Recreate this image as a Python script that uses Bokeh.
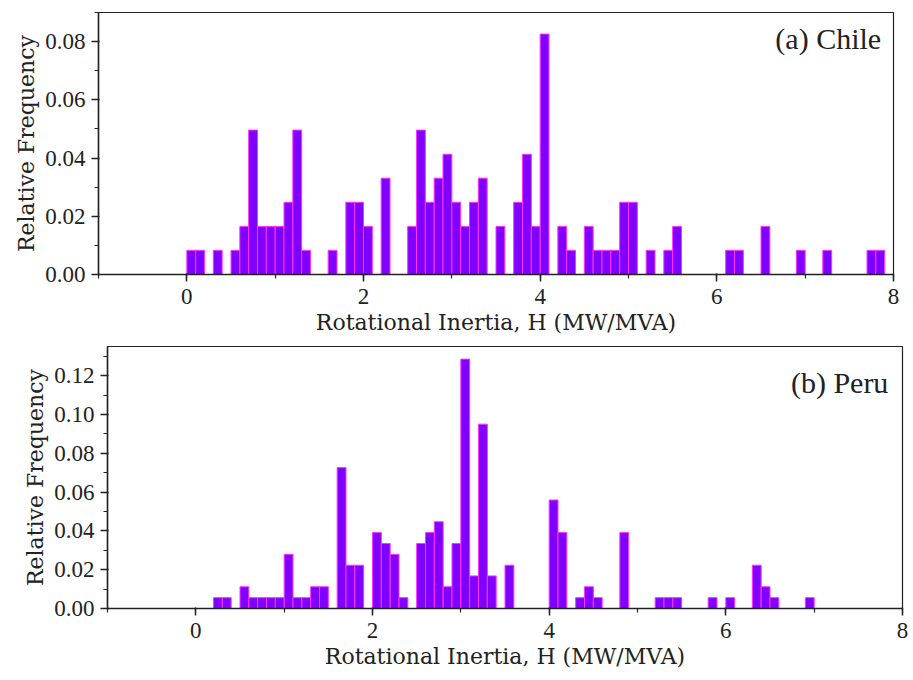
from bokeh.plotting import figure
from bokeh.models import SingleIntervalTicker, NumeralTickFormatter, Label, Range1d
from bokeh.embed import file_html
from bokeh.resources import INLINE

# ---- data (histogram bins of width 0.1, left edges, relative frequency) ----
bin_width = 0.1

chile_bin_start = [0.0, 0.1, 0.3, 0.5, 0.6, 0.7, 0.8, 0.9, 1.0, 1.1, 1.2, 1.3,
                   1.6, 1.8, 1.9, 2.0, 2.2, 2.5, 2.6, 2.7, 2.8, 2.9, 3.0, 3.1,
                   3.2, 3.3, 3.5, 3.7, 3.8, 3.9, 4.0, 4.2, 4.3, 4.5, 4.6, 4.7,
                   4.8, 4.9, 5.0, 5.2, 5.4, 5.5, 6.1, 6.2, 6.5, 6.9, 7.2, 7.7, 7.8]
chile_freq = [0.0083, 0.0083, 0.0083, 0.0083, 0.0165, 0.0496, 0.0165, 0.0165, 0.0165, 0.0248, 0.0496, 0.0083,
              0.0083, 0.0248, 0.0248, 0.0165, 0.0331, 0.0165, 0.0496, 0.0248, 0.0331, 0.0413, 0.0248, 0.0165,
              0.0248, 0.0331, 0.0165, 0.0248, 0.0413, 0.0165, 0.0826, 0.0165, 0.0083, 0.0165, 0.0083, 0.0083,
              0.0083, 0.0248, 0.0248, 0.0083, 0.0083, 0.0165, 0.0083, 0.0083, 0.0165, 0.0083, 0.0083, 0.0083, 0.0083]

peru_bin_start = [0.2, 0.3, 0.5, 0.6, 0.7, 0.8, 0.9, 1.0, 1.1, 1.2, 1.3, 1.4,
                  1.6, 1.7, 1.8, 2.0, 2.1, 2.2, 2.3, 2.5, 2.6, 2.7, 2.8, 2.9,
                  3.0, 3.1, 3.2, 3.3, 3.5, 4.0, 4.1, 4.3, 4.4, 4.5, 4.8, 5.2,
                  5.3, 5.4, 5.8, 6.0, 6.3, 6.4, 6.5, 6.9]
peru_freq = [0.0056, 0.0056, 0.0112, 0.0056, 0.0056, 0.0056, 0.0056, 0.0279, 0.0056, 0.0056, 0.0112, 0.0112,
             0.0726, 0.0223, 0.0223, 0.0391, 0.0335, 0.0279, 0.0056, 0.0335, 0.0391, 0.0447, 0.0112, 0.0335,
             0.1285, 0.0168, 0.0950, 0.0168, 0.0223, 0.0559, 0.0391, 0.0056, 0.0112, 0.0056, 0.0391, 0.0056,
             0.0056, 0.0056, 0.0056, 0.0056, 0.0223, 0.0112, 0.0056, 0.0056]

x_label = "Rotational Inertia, H (MW/MVA)"
y_label = "Relative Frequency"
FONT = "Liberation Serif"
TITLE_FONT = "DejaVu Serif"
BAR_FILL = "#8000ff"
BAR_LINE = "#ff33ff"
INK = "#222222"


def make_panel(starts, freqs, y_max, title, title_x, title_y, borders):
    left, right, top, bottom = borders
    p = figure(width=913, height=340, output_backend="svg", toolbar_location=None,
               x_range=Range1d(-1, 8), y_range=Range1d(0, y_max),
               min_border_left=left, min_border_right=right,
               min_border_top=top, min_border_bottom=bottom)
    p.quad(left=starts, right=[s + bin_width for s in starts], bottom=0, top=freqs,
           fill_color=BAR_FILL, line_color=BAR_LINE, line_width=1)
    p.xgrid.visible = False
    p.ygrid.visible = False
    p.outline_line_color = INK
    p.outline_line_width = 1.2
    p.background_fill_color = "white"
    p.border_fill_color = "white"

    p.xaxis.ticker = SingleIntervalTicker(interval=2, num_minor_ticks=2)
    p.yaxis.ticker = SingleIntervalTicker(interval=0.02, num_minor_ticks=2)
    p.yaxis.formatter = NumeralTickFormatter(format="0.00")
    p.xaxis.axis_label = x_label
    p.yaxis.axis_label = y_label
    for ax in (p.xaxis, p.yaxis):
        ax.axis_label_text_font = TITLE_FONT
        ax.axis_label_text_font_style = "normal"
        ax.axis_label_text_font_size = "22px"
        ax.axis_label_text_color = INK
        ax.major_label_text_font = FONT
        ax.major_label_text_font_size = "23px"
        ax.major_label_text_color = INK
        ax.axis_line_color = INK
        ax.axis_line_width = 1.5
        ax.major_tick_line_color = INK
        ax.minor_tick_line_color = INK
        ax.major_tick_line_width = 1.5
        ax.minor_tick_line_width = 1.2
        ax.major_tick_out = 7
        ax.major_tick_in = 1
        ax.minor_tick_out = 4
        ax.minor_tick_in = 0
    p.xaxis.major_label_standoff = 7
    p.yaxis.major_label_standoff = 6
    p.xaxis.axis_label_standoff = 3
    p.yaxis.axis_label_standoff = 3

    p.add_layout(Label(x=title_x, y=title_y, text=title, text_align="right",
                       text_baseline="middle", text_font=FONT,
                       text_font_size="30px", text_color=INK))
    return p


p1 = make_panel(chile_bin_start, chile_freq, 0.09, "(a) Chile", 7.86, 0.081,
                (98, 20, 12, 66))
p2 = make_panel(peru_bin_start, peru_freq, 0.135, "(b) Peru", 7.84, 0.1163,
                (107, 11, 6, 72))

open("out.html", "w").write(file_html([p1, p2], INLINE))
